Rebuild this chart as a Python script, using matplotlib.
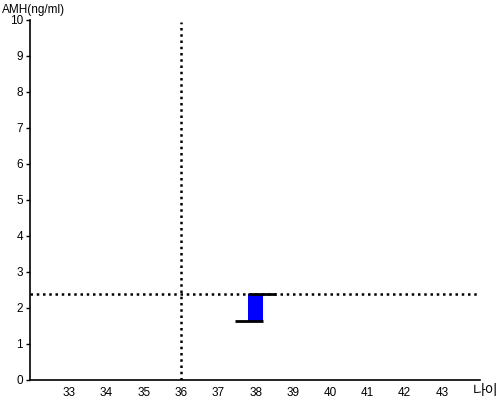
import matplotlib
matplotlib.use('Agg')
import matplotlib.pyplot as plt

plt.rcParams['font.family'] = ['Liberation Sans', 'DejaVu Sans']

# patient values
ages = [38]
amh_low = [1.65]
amh_high = [2.4]
ref_age = 36
ref_amh = 2.4

x_ticks = list(range(33, 44))
y_ticks = list(range(0, 11))

fig = plt.figure(figsize=(5, 4), dpi=100)
ax = fig.add_axes([0.06, 0.05, 0.9, 0.9])

for a, lo, hi in zip(ages, amh_low, amh_high):
    ax.bar(a, hi - lo, bottom=lo, width=0.4, color='#0000ff', zorder=3)
    ax.hlines(lo, a - 0.55, a + 0.2, color='black', lw=2, zorder=4)
    ax.hlines(hi, a - 0.2, a + 0.55, color='black', lw=2, zorder=4)

ax.axvline(ref_age, ymax=0.995, color='black', ls=(0, (1, 1.5)), lw=1.8, zorder=2)
ax.axhline(ref_amh, color='black', ls=(0, (1, 1.5)), lw=1.8, zorder=2)

ax.set_xlim(31.95, 44.02)
ax.set_ylim(0, 10)
ax.set_xticks(x_ticks)
ax.set_yticks(y_ticks)
ax.tick_params(labelsize=8.5, length=3, width=1, pad=2)
ax.tick_params(axis='x', length=0, pad=5)
ax.spines['top'].set_visible(False)
ax.spines['right'].set_visible(False)
for s in ('left', 'bottom'):
    ax.spines[s].set_linewidth(1.2)

fig.text(0.004, 0.975, 'AMH(ng/ml)', fontsize=8.5, va='center', ha='left')
fig.text(0.945, 0.022, '나이', fontsize=10, va='center', ha='left',
         family=['Noto Sans CJK KR', 'DejaVu Sans'])

fig.savefig('out.png', dpi=100)
